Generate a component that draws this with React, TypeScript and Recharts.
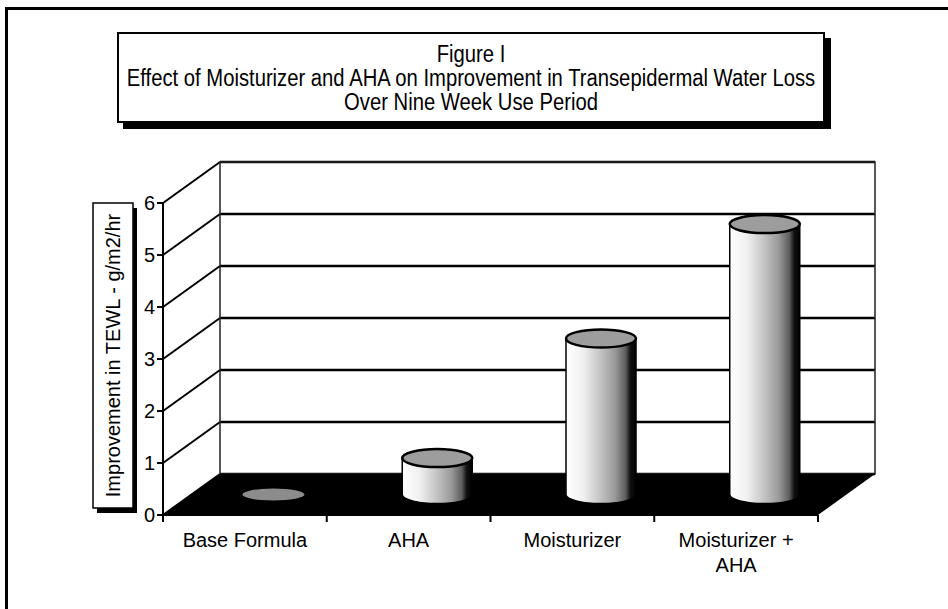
import React from 'react';
import { BarChart, Bar, XAxis, YAxis, CartesianGrid, ReferenceArea } from 'recharts';

// values
const categories = ['Base Formula', 'AHA', 'Moisturizer', 'Moisturizer +\nAHA'];
const tewlValues = [0, 0.7, 3.0, 5.2];
const yTicks = [0, 1, 2, 3, 4, 5, 6];
const titleLines = [
  'Figure I',
  'Effect of Moisturizer and AHA on Improvement in Transepidermal Water Loss',
  'Over Nine Week Use Period',
];
const yAxisTitle = 'Improvement in TEWL - g/m2/hr';

const chartData = categories.map((name, i) => ({ name, value: tewlValues[i] }));

const W = 948;
const H = 609;
const MARGIN = { top: 203, right: 130, bottom: 34, left: 103 };
const Y_AXIS_W = 60;
const X_AXIS_H = 60;
const BAND = (W - MARGIN.left - MARGIN.right - Y_AXIS_W) / categories.length;

// fake 3d depth offset
const DX = 57;
const DY = -41;

const FONT = '"Liberation Sans", Arial, Helvetica, sans-serif';

const Walls = (props: any) => {
  const { x, y, width, height } = props;
  const bottom = y + height;
  return (
    <g>
      <rect x={x + DX} y={y + DY} width={width} height={height} fill="none" stroke="#222" strokeWidth={1.5} />
      <polygon
        points={`${x},${bottom} ${x + width},${bottom} ${x + width + DX},${bottom + DY} ${x + DX},${bottom + DY}`}
        fill="#000"
      />
    </g>
  );
};

const WallGridLine = (props: any) => {
  const { x1, y1, x2, index } = props;
  return (
    <g key={`wg-${index}`}>
      <line x1={x1} y1={y1} x2={x1 + DX} y2={y1 + DY} stroke="#000" strokeWidth={2} />
      <line x1={x1 + DX} y1={y1 + DY} x2={x2 + DX} y2={y1 + DY} stroke="#000" strokeWidth={2.5} />
    </g>
  );
};

const Cylinder = (props: any) => {
  const { x, y, width, height, index } = props;
  const cx = x + width / 2 + DX / 2;
  const rx = width / 2;
  const left = cx - rx;
  const right = cx + rx;
  const top = y + DY / 2;
  const base = y + height + DY / 2;
  const ry = 9;
  if (!height || height < 1) {
    return <ellipse cx={cx} cy={base} rx={rx - 4} ry={6} fill="#8c8c8c" />;
  }
  const id = `cyl-grad-${index}`;
  return (
    <g>
      <defs>
        <linearGradient id={id} x1="0" x2="1" y1="0" y2="0">
          <stop offset="0%" stopColor="#ffffff" />
          <stop offset="25%" stopColor="#f0f0f0" />
          <stop offset="48%" stopColor="#c6c6c6" />
          <stop offset="70%" stopColor="#9a9a9a" />
          <stop offset="85%" stopColor="#5e5e5e" />
          <stop offset="92%" stopColor="#111" />
          <stop offset="100%" stopColor="#000" />
        </linearGradient>
      </defs>
      <path
        d={`M${left},${top} L${left},${base} A${rx},${ry} 0 0 0 ${right},${base} L${right},${top} Z`}
        fill={`url(#${id})`}
        stroke="#000"
        strokeWidth={1.5}
      />
      <ellipse cx={cx} cy={top} rx={rx} ry={ry} fill="#9d9d9d" stroke="#000" strokeWidth={2.5} />
    </g>
  );
};

const CategoryTick = (props: any) => {
  const { x, y, payload, index } = props;
  const half = BAND / 2;
  const lines = String(payload.value).split('\n');
  return (
    <g>
      <line x1={x - half} y1={y} x2={x - half} y2={y + 7} stroke="#000" strokeWidth={2} />
      {index === categories.length - 1 && (
        <line x1={x + half} y1={y} x2={x + half} y2={y + 7} stroke="#000" strokeWidth={2} />
      )}
      <text x={x} y={y + 32} textAnchor="middle" fontSize={20} fontFamily={FONT} fill="#000">
        {lines.map((l, i) => (
          <tspan key={i} x={x} dy={i === 0 ? 0 : 25}>
            {l}
          </tspan>
        ))}
      </text>
    </g>
  );
};

const YTitle = (props: any) => {
  const vb = props.viewBox || {};
  const bx = vb.x - 10;
  const by = vb.y;
  const bw = 40;
  const bh = vb.height - 7;
  const cx = bx + bw / 2;
  const cy = by + bh / 2;
  return (
    <g>
      <rect x={bx + 4} y={by + 5} width={bw} height={bh} fill="#000" />
      <rect x={bx} y={by} width={bw} height={bh} fill="#fff" stroke="#000" strokeWidth={1.5} />
      <text
        x={cx}
        y={cy}
        transform={`rotate(-90 ${cx} ${cy})`}
        textAnchor="middle"
        dominantBaseline="central"
        fontSize={20}
        fontFamily={FONT}
        fill="#000"
      >
        {yAxisTitle}
      </text>
    </g>
  );
};

export default function App() {
  return (
    <div style={{ position: 'absolute', left: 0, top: 0, width: W, height: H, background: '#fff', fontFamily: FONT }}>
      <BarChart width={W} height={H} data={chartData} margin={MARGIN} barSize={70}>
        <CartesianGrid vertical={false} horizontal={(p: any) => <WallGridLine {...p} />} />
        <ReferenceArea y1={0} y2={6} shape={(p: any) => <Walls {...p} />} ifOverflow="visible" />
        <XAxis
          dataKey="name"
          height={X_AXIS_H}
          tickLine={false}
          tickSize={0}
          tickMargin={0}
          axisLine={{ stroke: '#000', strokeWidth: 2 }}
          tick={(p: any) => <CategoryTick {...p} />}
          interval={0}
        />
        <YAxis
          width={Y_AXIS_W}
          domain={[0, 6]}
          ticks={yTicks}
          interval={0}
          tickSize={6}
          tickMargin={2}
          axisLine={{ stroke: '#000', strokeWidth: 2 }}
          tickLine={{ stroke: '#000', strokeWidth: 2 }}
          tick={{ fontSize: 20, fontFamily: FONT, fill: '#000' }}
          label={{ content: (p: any) => <YTitle {...p} /> }}
        />
        <Bar dataKey="value" isAnimationActive={false} shape={(p: any) => <Cylinder {...p} />} />
      </BarChart>

      {/* page frame: only left and top edges show in the scan */}
      <div
        style={{
          position: 'absolute',
          left: 5,
          top: 7,
          width: W - 5,
          height: H - 7,
          borderLeft: '3px solid #000',
          borderTop: '3px solid #000',
          boxSizing: 'border-box',
          pointerEvents: 'none',
        }}
      />

      <div
        style={{
          position: 'absolute',
          left: 117,
          top: 32,
          width: 708,
          height: 91,
          boxSizing: 'border-box',
          border: '2px solid #000',
          boxShadow: '6px 6px 0 #000',
          background: '#fff',
          color: '#000',
        }}
      >
        <div
          style={{
            position: 'absolute',
            left: '50%',
            top: 8,
            transform: 'translateX(-50%) scaleX(0.88)',
            whiteSpace: 'nowrap',
            textAlign: 'center',
            fontSize: 23,
            lineHeight: '24px',
          }}
        >
          {titleLines.map((t, i) => (
            <div key={i}>{t}</div>
          ))}
        </div>
      </div>
    </div>
  );
}
